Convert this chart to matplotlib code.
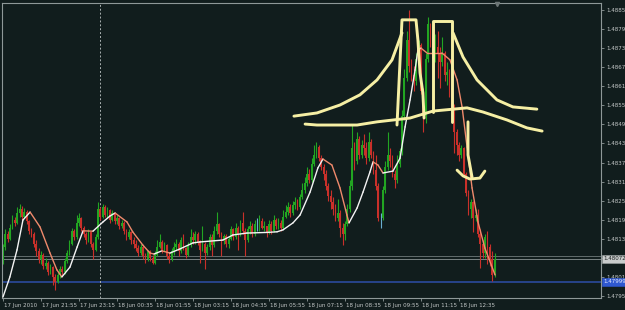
import numpy as np
import matplotlib
matplotlib.use('Agg')
import matplotlib.pyplot as plt
from matplotlib.collections import LineCollection
import matplotlib.transforms as mtransforms

plt.rcParams['font.family'] = ['DejaVu Sans']

# EURCHF-ish M5 bars, prices stored as points above 1.48000 (1 point = 0.00001)
first_open = 70
closes = [110, 150, 135, 170, 195, 185, 215, 230,
          205, 220, 190, 160, 150, 120, 95, 70,
          85, 50, 60, 30, 45, 15, 0, 20,
          40, 30, 65, 90, 120, 160, 140, 185,
          200, 170, 150, 130, 155, 120, 100, 140,
          230, 205, 235, 210, 225, 195, 215, 190,
          200, 175, 185, 160, 140, 155, 130, 120,
          105, 90, 110, 80, 70, 95, 75, 60,
          85, 110, 125, 100, 115, 80, 70, 95,
          110, 120, 95, 130, 105, 85, 115, 140,
          130, 150, 125, 100, 120, 90, 110, 140,
          115, 160, 180, 150, 130, 145, 120, 135,
          165, 140, 170, 150, 185, 160, 130, 165,
          175, 150, 180, 180, 190, 170, 175, 155,
          180, 160, 195, 175, 185, 170, 205, 220,
          235, 215, 240, 250, 235, 265, 290, 310,
          340, 320, 370, 400, 425, 390, 360, 340,
          300, 270, 250, 230, 200, 215, 170, 150,
          180, 230, 300, 420, 380, 450, 400, 430,
          420, 390, 440, 400, 350, 300, 200, 200,
          290, 360, 400, 380, 340, 320, 370, 410,
          520, 640, 760, 680, 650, 630, 700, 745,
          600, 520, 700, 810, 760, 700, 740, 720,
          690, 720, 650, 660, 610, 550, 470, 430,
          400, 420, 340, 280, 230, 250, 200, 210,
          150, 120, 90, 140, 110, 70, 20, 72]
highs = [120, 165, 160, 180, 210, 205, 235, 245,
         238, 232, 225, 195, 170, 155, 130, 105,
         95, 90, 75, 65, 55, 50, 25, 30,
         50, 50, 75, 100, 130, 170, 165, 210,
         215, 205, 175, 155, 165, 160, 125, 150,
         250, 235, 245, 240, 235, 230, 225, 220,
         210, 205, 195, 190, 165, 165, 160, 140,
         130, 115, 120, 115, 90, 100, 100, 85,
         95, 130, 150, 130, 125, 120, 90, 105,
         125, 135, 125, 140, 150, 110, 125, 165,
         155, 160, 155, 130, 175, 125, 120, 150,
         150, 175, 220, 185, 155, 150, 150, 145,
         175, 170, 185, 175, 195, 220, 170, 175,
         190, 185, 195, 200, 210, 200, 190, 175,
         195, 190, 210, 200, 200, 195, 225, 240,
         250, 245, 255, 265, 260, 275, 310, 330,
         360, 355, 390, 430, 440, 430, 400, 370,
         350, 310, 290, 265, 245, 260, 225, 185,
         190, 245, 320, 495, 440, 470, 460, 445,
         465, 440, 470, 450, 410, 400, 310, 215,
         300, 380, 470, 420, 400, 350, 400, 420,
         540, 670, 790, 855, 700, 680, 720, 760,
         750, 610, 720, 833, 815, 770, 780, 790,
         740, 770, 725, 690, 670, 620, 560, 480,
         440, 430, 425, 345, 290, 260, 255, 230,
         230, 165, 130, 150, 160, 120, 95, 90]
lows = [55, 100, 125, 130, 165, 175, 180, 205,
        195, 200, 180, 150, 140, 110, 80, 60,
        55, 40, 40, 20, 25, -10, -26, -5,
        10, 20, 25, 60, 85, 115, 130, 135,
        175, 160, 140, 120, 125, 110, 70, 95,
        135, 195, 200, 205, 200, 185, 190, 180,
        180, 165, 170, 150, 130, 135, 120, 105,
        95, 80, 85, 70, 60, 65, 65, 55,
        55, 80, 105, 90, 95, 70, 60, 65,
        85, 100, 80, 90, 100, 75, 80, 110,
        120, 120, 115, 60, 95, 40, 85, 100,
        80, 110, 150, 140, 80, 120, 110, 105,
        130, 130, 135, 100, 145, 150, 80, 125,
        150, 140, 145, 160, 160, 165, 160, 140,
        150, 150, 155, 165, 165, 160, 165, 200,
        210, 205, 210, 230, 225, 230, 260, 280,
        300, 310, 315, 365, 390, 380, 350, 320,
        290, 255, 230, 210, 190, 190, 140, 116,
        130, 175, 220, 290, 350, 370, 385, 390,
        400, 370, 380, 390, 340, 290, 190, 170,
        195, 280, 350, 360, 330, 295, 310, 360,
        400, 510, 630, 660, 630, 600, 620, 690,
        590, 470, 500, 690, 740, 690, 690, 640,
        610, 680, 630, 620, 580, 540, 405, 400,
        380, 390, 330, 270, 210, 200, 156, 190,
        140, 43, 75, 75, 55, 50, 2, 15]

# smoothed moving average (bar index, points)
ma_bar = [0, 2.9, 5.9, 8.4, 11.4, 15.6, 19.8, 22.7, 24.8, 28.2, 31.2, 33.7, 37.9,
          42.1, 45.1, 47.2, 52.2, 54.7, 58.9, 61.9, 63.6, 66.9, 70.3, 74.5, 80,
          82.9, 92.6, 96.8, 102.7, 111.2, 115.4, 117.9, 122.1, 125.1, 129.3,
          132.6, 134.7, 138.5, 141.9, 144.8, 145.7, 149.1, 151.6, 154.5, 155.8,
          157.9, 160, 164.2, 167.2, 169.3, 171.4, 173.5, 174.7, 176, 178.5,
          181.1, 184.8, 188.2, 191.2, 193.3, 195.4, 197.5, 200, 202.9, 207.2]
ma_pts = [-48, 15, 100, 194, 219, 172, 90, 37, 15, 46, 109, 160, 159,
          188, 207, 216, 188, 156, 115, 90, 87, 97, 90, 103, 122,
          125, 131, 147, 153, 155, 157, 163, 185, 210, 282,
          358, 386, 367, 295, 210, 185, 232, 282, 345, 377,
          367, 342, 348, 389, 487, 572, 666, 729, 735, 720,
          720, 720, 698, 635, 550, 424, 295, 188, 106, 21]

# hand drawn marks (bar index, points)
curve_up_left = [(122.5, 521), (132.2, 531), (141.9, 556), (150.3, 588), (157.5, 635), (163.8, 698), (168, 783)]
box_left = [(165.9, 493), (168, 824), (173.9, 824), (174.7, 761), (175.6, 657), (176.8, 594), (177.3, 515)]
box_right = [(181.1, 534), (181.1, 820), (189.1, 820), (189.1, 503)]
curve_up_right = [(189.5, 783), (193.7, 707), (199.6, 635), (208, 572), (214.7, 550), (224.8, 543)]
curve_low = [(127.2, 496), (132.2, 493), (149.1, 493), (157.5, 503), (171.4, 515), (181.1, 537),
             (195.4, 547), (202.1, 534), (212.2, 509), (220.6, 484), (227, 474)]
arrow_stem = [(195.8, 503), (195.8, 399), (197.5, 329)]
arrow_hook = [(191.2, 351), (193.7, 333), (196.6, 323), (200.8, 326), (202.9, 348)]

time_labels = ['17 Jun 2010', '17 Jun 21:55', '17 Jun 23:15', '18 Jun 00:35', '18 Jun 01:55',
               '18 Jun 03:15', '18 Jun 04:35', '18 Jun 05:55', '18 Jun 07:15', '18 Jun 08:35',
               '18 Jun 09:55', '18 Jun 11:15', '18 Jun 12:35']
label_step = 16
day_sep_bar = 41
bid = 1.48072
ask = 1.48080
blue_level = 1.47999
price_ticks = [1.47955 + 0.0006 * k for k in range(16)]

base = 1.48
scale = 1e-5

bg = '#111d1d'
frame = '#8e9898'
txt = '#c4c8c8'
up_col = '#22a522'
dn_col = '#c9302a'
doji_col = '#6aaed0'
ma_up = '#f4f4f4'
ma_dn = '#f08a6c'
ink = '#f6efa4'
fs = 4.0

c = np.array(closes, dtype=float)
o = np.r_[first_open, c[:-1]]
h = np.maximum(np.array(highs, dtype=float), np.maximum(o, c))
l = np.minimum(np.array(lows, dtype=float), np.minimum(o, c))
x = np.arange(len(c))
P = lambda v: base + np.asarray(v, dtype=float) * scale

fig = plt.figure(figsize=(6.25, 3.10), dpi=100, facecolor=bg)
ax = fig.add_axes([2 / 625, 12.5 / 310, 599 / 625, 295 / 310], facecolor=bg)

# horizontal levels and separator
ax.axhline(ask, color='#6f7a7a', lw=0.6, zorder=1)
ax.axhline(bid, color='#8a9494', lw=0.6, zorder=1)
ax.axhline(blue_level, color='#2d4ea8', lw=1.1, zorder=1)
ax.axvline(day_sep_bar, color='#a9b1b1', lw=0.7, ls=(0, (2, 2)), zorder=1)

# candles
colors = np.where(c > o, up_col, np.where(c < o, dn_col, doji_col))
ax.vlines(x, P(l), P(h), colors=colors, lw=0.8, zorder=2)
ax.bar(x, P(c) - P(o), bottom=P(o), width=0.75, color=colors, lw=0, zorder=2)

# moving average, white while rising, salmon while falling
mx = np.array(ma_bar)
my = P(ma_pts)
segs = [[(mx[i], my[i]), (mx[i + 1], my[i + 1])] for i in range(len(mx) - 1)]
seg_cols = [ma_up if my[i + 1] > my[i] else ma_dn for i in range(len(mx) - 1)]
ax.add_collection(LineCollection(segs, colors=seg_cols, linewidths=1.0, zorder=3,
                                 capstyle='round', joinstyle='round'))

# hand drawn annotations
for pts in [curve_up_left, box_left, box_right, curve_up_right, curve_low, arrow_stem, arrow_hook]:
    px, py = zip(*pts)
    ax.plot(px, P(py), color=ink, lw=2.1, solid_capstyle='round', solid_joinstyle='round', zorder=4)

ax.set_xlim(-0.42, 251.8)
ax.set_ylim(1.479502, 1.488786)

for s in ax.spines.values():
    s.set_color(frame)
    s.set_linewidth(0.8)

ax.yaxis.tick_right()
ax.set_yticks(price_ticks)
ax.set_yticklabels(['%.5f' % v for v in price_ticks])
ax.tick_params(axis='y', colors=frame, labelcolor=txt, length=2.5, width=0.6,
               labelsize=fs, pad=1.5)
ax.set_xticks(np.arange(len(time_labels)) * label_step)
ax.set_xticklabels(time_labels)
ax.tick_params(axis='x', colors=frame, labelcolor=txt, length=2.5, width=0.6,
               labelsize=fs, pad=1.2)
for t in ax.get_xticklabels():
    t.set_horizontalalignment('left')
    t.set_transform(t.get_transform() + mtransforms.ScaledTranslation(1.5 / 100, 0, fig.dpi_scale_trans))

# price boxes on the right scale
tr = mtransforms.blended_transform_factory(ax.transAxes, ax.transData)
ax.text(1.004, bid, '%.5f' % bid, transform=tr, fontsize=fs, color='#1a1f1f', va='center',
        ha='left', clip_on=False, zorder=6,
        bbox=dict(boxstyle='square,pad=0.3', fc='#c9cccc', ec='#9aa2a2', lw=0.4))
ax.text(1.004, blue_level, '%.5f' % blue_level, transform=tr, fontsize=fs, color='#e8ecff',
        va='center', ha='left', clip_on=False, zorder=6,
        bbox=dict(boxstyle='square,pad=0.3', fc='#2f58d0', ec='#2f58d0', lw=0.4))

# chart shift marker
ax.plot([208], [1.48873], marker='v', ms=3, color='#6c7676', clip_on=False, zorder=5)

fig.savefig('out.png', dpi=100, facecolor=bg)
